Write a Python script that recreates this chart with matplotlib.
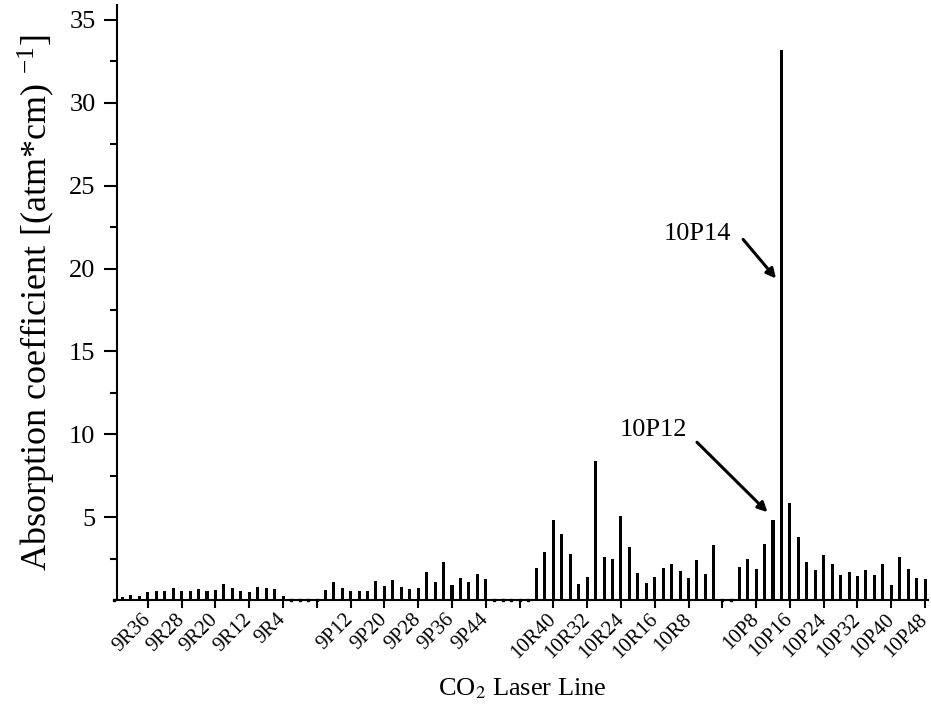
import matplotlib
matplotlib.use('Agg')
import matplotlib.pyplot as plt
import numpy as np

plt.rcParams['font.family'] = ['Liberation Serif', 'DejaVu Serif']
plt.rcParams['mathtext.fontset'] = 'stix'

# absorption coefficient per laser line, (atm*cm)^-1
seg_9R = [0, 0.18, 0.28, 0.24, 0.5, 0.54, 0.54, 0.74, 0.56, 0.56, 0.64,
          0.56, 0.6, 0.94, 0.7, 0.54, 0.5, 0.78, 0.7, 0.64, 0.24]
seg_9P = [0, 0, 0, 0, 0.6, 1.1, 0.7, 0.54, 0.54, 0.56, 1.15, 0.84, 1.2,
          0.76, 0.64, 0.7, 1.69, 1.08, 2.29, 0.88, 1.31, 1.1, 1.55, 1.27]
seg_10R = [0, 0, 0, 0, 0, 1.91, 2.87, 4.82, 3.96, 2.79, 0.98, 1.41, 8.39,
           2.61, 2.47, 5.08, 3.19, 1.61, 1.0, 1.39, 1.91, 2.19, 1.75, 1.33,
           2.39, 1.55, 3.35]
seg_10P = [0, 0, 1.99, 2.49, 1.89, 3.39, 4.80, 33.2, 5.86, 3.80, 2.29, 1.79,
           2.71, 2.19, 1.49, 1.71, 1.43, 1.79, 1.51, 2.17, 0.92, 2.61, 1.87,
           1.35, 1.24]

tick_labels = ['9R36', '9R28', '9R20', '9R12', '9R4', '',
               '9P12', '9P20', '9P28', '9P36', '9P44', '',
               '10R40', '10R32', '10R24', '10R16', '10R8', '',
               '10P8', '10P16', '10P24', '10P32', '10P40', '10P48']

absorption = np.array(seg_9R + seg_9P + seg_10R + seg_10P)
pos = np.arange(len(absorption))

fig = plt.figure(figsize=(9.31, 7.18), dpi=100)
ax = fig.add_axes([0.1257, 0.1643, 0.8711, 0.8287])

# bars
ax.bar(pos, absorption, width=0.36, color='black', zorder=3)
# zero entries show as small dots on the axis
zero = absorption == 0
ax.plot(pos[zero], absorption[zero], 's', color='black', ms=1.6,
        clip_on=False, zorder=4)

ax.set_xlim(0.35, 96.35)
ax.set_ylim(0, 35.9)

ax.set_xticks(pos[4::4])
ax.set_xticklabels(tick_labels, rotation=45, ha='right', va='center',
                   rotation_mode='anchor', fontsize=15)
ax.set_yticks(np.arange(5, 36, 5))
ax.set_yticks(np.arange(2.5, 36, 2.5), minor=True)
ax.tick_params(axis='y', labelsize=19, length=9.5, width=1.5, pad=6)
ax.tick_params(axis='y', which='minor', length=5, width=1.5)
ax.tick_params(axis='x', length=6, width=1.5, pad=6)

for side in ['top', 'right']:
    ax.spines[side].set_visible(False)
for side in ['left', 'bottom']:
    ax.spines[side].set_linewidth(1.5)

ax.set_xlabel('CO$_2$ Laser Line', fontsize=19, labelpad=10)
ax.set_ylabel('Absorption coefficient [(atm*cm) $^{\\mathregular{-1}}$]',
              fontsize=26, labelpad=9)

# 标注两条谱线
arrow = dict(arrowstyle='-|>', color='black', lw=2.2, mutation_scale=14,
             shrinkA=0, shrinkB=0)
ax.annotate('', xy=(78.36, 19.4), xytext=(74.46, 21.76), arrowprops=arrow)
ax.text(69.1, 22.06, '10P14', fontsize=19, ha='center', va='center')
ax.annotate('', xy=(77.35, 5.3), xytext=(69.0, 9.52), arrowprops=arrow)
ax.text(63.8, 10.25, '10P12', fontsize=19, ha='center', va='center')

plt.savefig('out.png', dpi=100)
